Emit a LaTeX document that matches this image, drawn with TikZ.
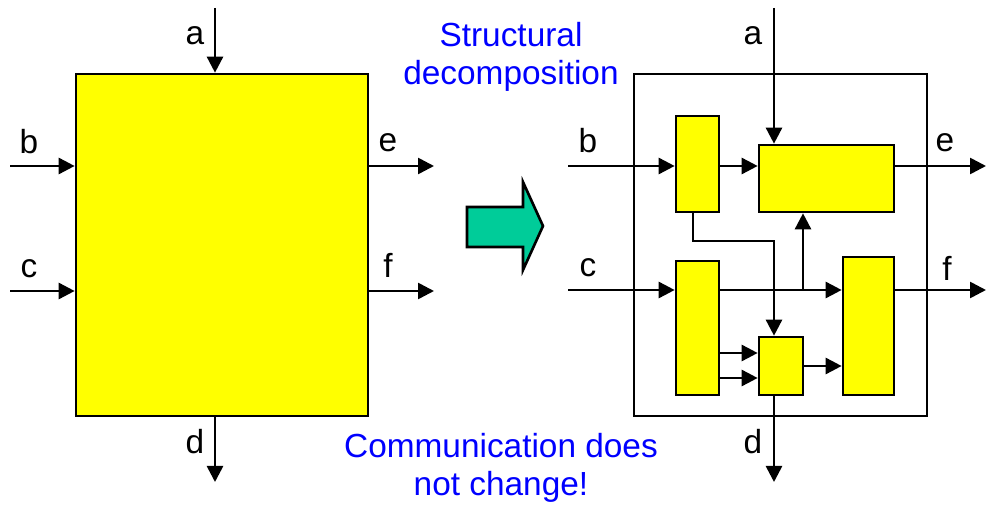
\documentclass[tikz,border=0pt]{standalone}
\usepackage{fontspec}
\setmainfont{Liberation Sans}
\usetikzlibrary{positioning,arrows.meta}
\definecolor{boxyellow}{RGB}{255,255,0}
\definecolor{arrowgreen}{RGB}{0,204,153}

\begin{document}
\begin{tikzpicture}[x=0.2mm, y=-0.2mm,
		blk/.style={draw, line width=1.5pt, fill=boxyellow, rectangle, inner sep=0pt},
		outerbox/.style={draw, line width=1.5pt, rectangle, inner sep=0pt, minimum width=58.6mm, minimum height=68.4mm},
		arrow/.style={-{Triangle[length=3.2mm,width=3.2mm]}, line width=1.5pt},
		lbl/.style={inner sep=0pt, font=\fontsize{19}{21.6}\selectfont},
		note/.style={align=center, text=blue, inner sep=0pt, font=\fontsize{19}{21.6}\selectfont}]
	
	\useasboundingbox (0,0) rectangle (988,506);
	
	% left: the system as one block
	\node[blk, minimum width=58.4mm, minimum height=68.4mm] (sys) at (222,245) {};
	\coordinate (ain) at (215,8);
	\coordinate (bin) at (10,166);
	\coordinate (cin) at (10,291);
	\coordinate (eout) at (434,166);
	\coordinate (fout) at (434,291);
	\coordinate (dout) at (215,482);
	
	\draw[arrow] (ain) -- (ain |- sys.north);
	\draw[arrow] (bin) -- (bin -| sys.west);
	\draw[arrow] (cin) -- (cin -| sys.west);
	\draw[arrow] (sys.east |- eout) -- (eout);
	\draw[arrow] (sys.east |- fout) -- (fout);
	\draw[arrow] (dout |- sys.south) -- (dout);
	
	\node[lbl] (la) at (195,36) {a};
	\node[lbl] (lb) at (29,142) {b};
	\node[lbl] (lc) at (29,269) {c};
	\node[lbl] (le) at (388,143) {e};
	\node[lbl] (lf) at (388,265) {f};
	\node[lbl] (ld) at (195,442) {d};
	
	% transformation arrow
	\draw[line width=1.5pt, fill=arrowgreen] (467,207) -- (523,207) -- (523,182) -- (543,226)
		-- (523,270) -- (523,247) -- (467,247) -- cycle;
	
	\node[note] (title) at (511,57) {Structural\\decomposition};
	\node[note] (remark) at (501,468) {Communication does\\not change!};
	
	% right: the decomposed system
	\node[outerbox] (frame2) at (780.5,245) {};
	\node[blk, minimum width=8.6mm, minimum height=19.2mm] (p1) at (697.5,164) {};
	\node[blk, minimum width=27mm, minimum height=13.4mm] (p2) at (826.5,178.5) {};
	\node[blk, minimum width=8.6mm, minimum height=26.8mm] (p3) at (697.5,328) {};
	\node[blk, minimum width=8.8mm, minimum height=11.6mm] (p4) at (781,366) {};
	\node[blk, minimum width=10.2mm, minimum height=27.6mm] (p5) at (868.5,326) {};
	
	\coordinate (ain2) at (774,8);
	\coordinate (bin2) at (568,166);
	\coordinate (cin2) at (568,290);
	\coordinate (eout2) at (986,166);
	\coordinate (fout2) at (986,290);
	\coordinate (dout2) at (774,482);
	\coordinate (fork) at (803,290);
	\coordinate (bend) at (774,241);
	\coordinate (in1) at (781,353);
	\coordinate (in2) at (781,378);
	
	\draw[arrow] (ain2) -- (ain2 |- p2.north);
	\draw[arrow] (bin2) -- (bin2 -| p1.west);
	\draw[arrow] (p1.east |- bin2) -- (p2.west |- bin2);
	\draw[arrow] (p2.east |- eout2) -- (eout2);
	\draw[arrow] (cin2) -- (cin2 -| p3.west);
	\draw[arrow] (p3.east |- cin2) -- (p5.west |- cin2);
	\draw[arrow] (fork) -- (fork |- p2.south);
	\draw[arrow] ([xshift=-0.9mm]p1.south) |- (bend) -- (bend |- p4.north);
	\draw[arrow] (p3.east |- in1) -- (p4.west |- in1);
	\draw[arrow] (p3.east |- in2) -- (p4.west |- in2);
	\draw[arrow] (p4.east) -- (p4.east -| p5.west);
	\draw[arrow] (p5.east |- fout2) -- (fout2);
	\draw[arrow] (bend |- p4.south) -- (dout2);
	
	\node[lbl] (la2) at (753,36) {a};
	\node[lbl] (lb2) at (588,141) {b};
	\node[lbl] (lc2) at (588,268) {c};
	\node[lbl] (le2) at (945,143) {e};
	\node[lbl] (lf2) at (947,268) {f};
	\node[lbl] (ld2) at (753,442) {d};
	
\end{tikzpicture}
\end{document}
